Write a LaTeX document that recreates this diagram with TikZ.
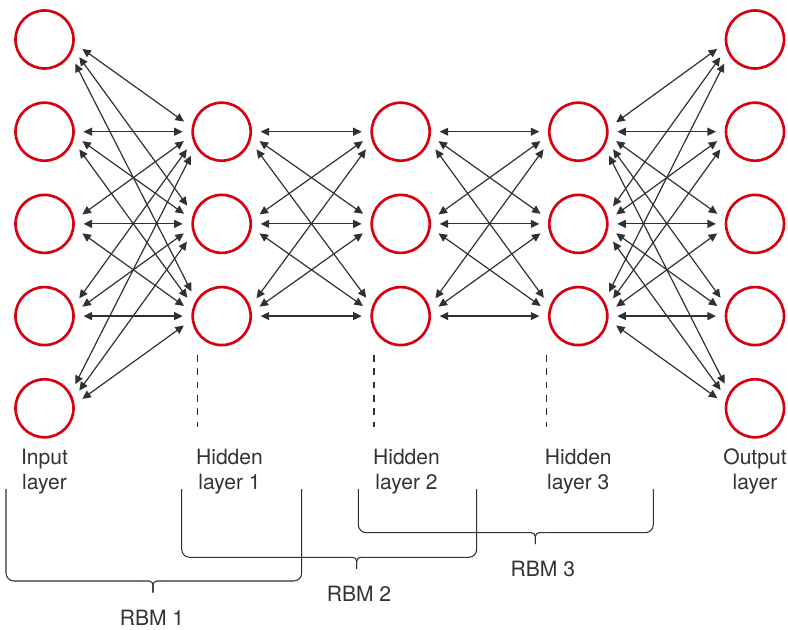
\documentclass[tikz,border=0pt]{standalone}
\usepackage{fontspec}
\setmainfont{TeX Gyre Heros}
\usepackage{tikz}
\usetikzlibrary{arrows.meta}
\usetikzlibrary{positioning}
\definecolor{nodered}{HTML}{D9000F}
\definecolor{linkgray}{HTML}{2D3238}
\definecolor{textgray}{HTML}{333333}
\tikzstyle{neuron} = [circle, draw=nodered, line width=2pt, minimum size=43.5pt, inner sep=0pt, outer sep=7.5pt]
\tikzstyle{link} = [{Triangle[length=6.4pt,width=6pt]}-{Triangle[length=6.4pt,width=6pt]}, draw=linkgray, line width=0.9pt]
\tikzstyle{layertext} = [align=center, text=textgray, inner sep=0pt, font=\fontsize{15.8}{18.75}\selectfont]
\tikzstyle{bracket} = [draw=linkgray, line width=0.8pt]
\tikzstyle{guide} = [draw=linkgray, line width=0.8pt, dash pattern=on 5pt off 5pt]

\begin{document}
\begin{tikzpicture}[x=0.75pt, y=-0.75pt]
\useasboundingbox (0,0) rectangle (788,630);

% layers
\foreach \i in {1,...,5} {
  \node (in\i) [neuron] at (44.5, {39.5+(\i-1)*92.2}) {};
  \node (out\i) [neuron] at (755, {39.5+(\i-1)*92.2}) {};
}
\foreach \j in {1,2,3} {
  \node (ha\j) [neuron] at (221.7, {39.5+\j*92.2}) {};
  \node (hb\j) [neuron] at (400.7, {39.5+\j*92.2}) {};
  \node (hc\j) [neuron] at (578.3, {39.5+\j*92.2}) {};
}

% weights
\foreach \i in {1,...,5}
  \foreach \j in {1,2,3} {
    \pgfmathsetmacro\sa{-atan((\j+1-\i)*92.2/354)}
    \draw[link] (in\i.\sa) -- (ha\j.180+\sa);
    \pgfmathsetmacro\sb{-atan((\i-1-\j)*92.2/354)}
    \draw[link] (hc\j.\sb) -- (out\i.180+\sb);
  }
\foreach \i in {1,2,3}
  \foreach \j in {1,2,3} {
    \pgfmathsetmacro\sa{-atan((\j-\i)*92.2/357)}
    \draw[link] (ha\i.\sa) -- (hb\j.180+\sa);
    \draw[link] (hb\i.\sa) -- (hc\j.180+\sa);
  }

\foreach \x in {197.3,374,546.7}
  \draw[guide] (\x,355) -- (\x,427);

\node (lin) [layertext] at (44.5,471.5) {Input\\layer};
\node (lha) [layertext] at (229.5,471.5) {Hidden\\layer 1};
\node (lhb) [layertext] at (406.5,471.5) {Hidden\\layer 2};
\node (lhc) [layertext] at (578.3,471.5) {Hidden\\layer 3};
\node (lout) [layertext] at (755,471.5) {Output\\layer};

% RBM brackets
\foreach \l/\r/\m/\b in {6/301.7/153/581, 181.7/476.7/356.7/557.3, 358.3/653.3/535.3/532.7} {
  \draw[bracket, rounded corners=6pt] (\l,489) -- (\l,\b) -- ({\m-10},\b);
  \draw[bracket, rounded corners=6pt] (\r,489) -- (\r,\b) -- ({\m+10},\b);
  \draw[bracket, rounded corners=3pt] ({\m-10},\b) -- (\m,\b) -- (\m,{\b+11.5});
  \draw[bracket, rounded corners=3pt] ({\m+10},\b) -- (\m,\b) -- (\m,{\b+11.5});
}

\node (rbm1) [layertext] at (152,617.5) {RBM 1};
\node (rbm2) [layertext] at (359,594) {RBM 2};
\node (rbm3) [layertext] at (542.8,569) {RBM 3};
\end{tikzpicture}
\end{document}
